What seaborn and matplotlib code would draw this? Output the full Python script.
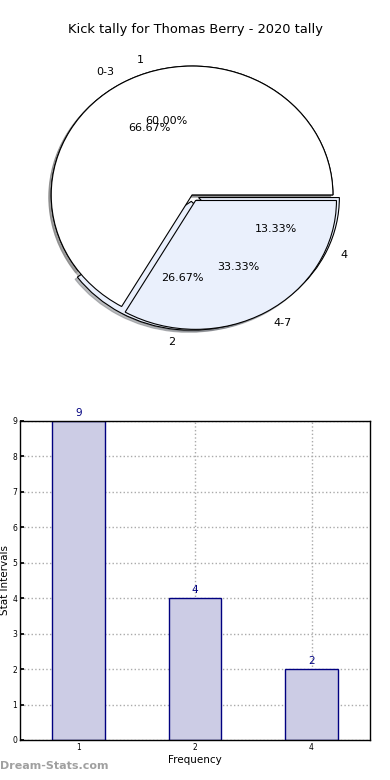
import matplotlib
matplotlib.use("Agg")
import matplotlib.pyplot as plt
import seaborn as sns
import pandas as pd

# Data
title = "Kick tally for Thomas Berry - 2020 tally"
freq_labels = ["1", "2", "4"]
freq_counts = [9, 4, 2]
interval_labels = ["0-3", "4-7"]
interval_counts = [10, 5]
y_ticks = [0, 1, 2, 3, 4, 5, 6, 7, 8, 9]

sns.set_theme(style="white")
plt.rcParams['font.family'] = ['DejaVu Sans']
plt.rcParams['text.color'] = 'black'
plt.rcParams['axes.labelcolor'] = 'black'
plt.rcParams['xtick.color'] = 'black'
plt.rcParams['ytick.color'] = 'black'

fig = plt.figure(figsize=(3.9, 7.8), dpi=100)

# Pie chart
axp = fig.add_axes([0.041, 0.5436, 0.903, 0.413])
light = "#eaf0fc"
shadow = dict(ox=-0.012, oy=-0.012, shade=0.5)
axp.pie(freq_counts, labels=freq_labels, autopct="%.2f%%",
        colors=["white", light, light], explode=[0, 0.05, 0.05],
        shadow=shadow, wedgeprops=dict(edgecolor="black", linewidth=0.8),
        textprops=dict(fontsize=8, color="black"))
axp.pie(interval_counts, labels=interval_labels, autopct="%.2f%%",
        colors=["white", light], explode=[0, 0.05],
        shadow=shadow, wedgeprops=dict(edgecolor="black", linewidth=0.8),
        textprops=dict(fontsize=8, color="black"))
axp.set_aspect("auto")
axp.set_xlim(-1.25, 1.25)
axp.set_ylim(-1.25, 1.25)
axp.axis("off")
fig.text(0.5, 0.962, title, ha="center", va="center", fontsize=9.4,
         color="black")

# Bar chart
axb = fig.add_axes([0.0513, 0.0513, 0.897, 0.409])
df = pd.DataFrame({"freq": freq_labels, "count": freq_counts})
sns.barplot(data=df, x="freq", y="count", order=freq_labels, ax=axb,
            color="#ccccE5", saturation=1, width=0.45,
            edgecolor="navy", linewidth=1)
for c in axb.containers:
    axb.bar_label(c, padding=2, color="navy", fontsize=7.5)
axb.set_xlim(-0.5, 2.5)
axb.set_ylim(0, 9)
axb.set_yticks(y_ticks)
axb.tick_params(axis="both", labelsize=5.5, direction="in", length=3,
                top=False, right=False, bottom=True, left=True, pad=2)
axb.grid(True, linestyle=":", color="#aaaaaa", linewidth=1)
for s in axb.spines.values():
    s.set_color("black")
    s.set_linewidth(1)
    s.set_visible(True)
axb.set_xlabel("Frequency", fontsize=7.5, labelpad=2)
axb.set_ylabel("Stat Intervals", fontsize=7.5, labelpad=2)

fig.text(0.0, 0.012, "Dream-Stats.com", fontsize=8, color="#a0a0a0",
         fontweight="bold", ha="left", va="bottom")

fig.savefig("out.png", dpi=100)
